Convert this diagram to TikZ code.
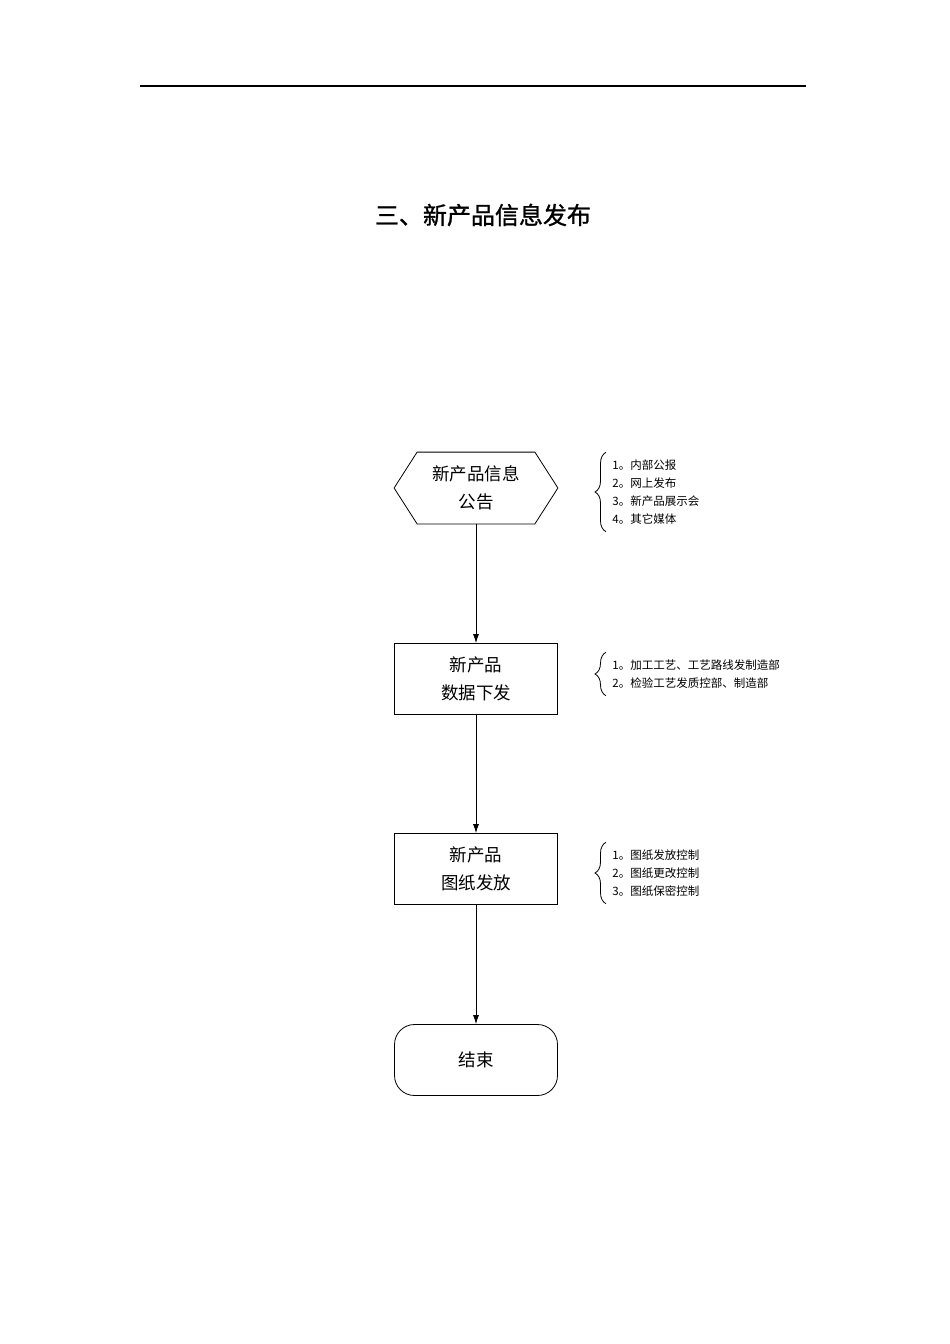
\documentclass[tikz,border=0pt]{standalone}
\usepackage{fontspec}
\setmainfont{Noto Sans CJK SC}
\newfontfamily\titlefont[FakeBold=1.2]{Noto Sans CJK SC}
\usetikzlibrary{positioning,arrows.meta,decorations.pathreplacing}

\begin{document}
\begin{tikzpicture}[x=1pt,y=-1pt,line width=0.8pt,>={Latex[length=9pt,width=6pt]},
  box/.style={draw,minimum width=163pt,minimum height=71pt,align=center,font=\fontsize{17.5}{28}\selectfont},
  note/.style={anchor=west,align=left,inner xsep=0pt,inner ysep=7pt,font=\fontsize{11.5}{18}\selectfont},
  brace/.style={decorate,decoration={brace,amplitude=11pt}}]
  \useasboundingbox (0,0) rectangle (950,1344);
  \draw[line width=1.2pt] (140,86) -- (806,86);
  \node[font=\titlefont\fontsize{24}{28}\selectfont] (title) at (483,215) {三、新产品信息发布};

  \node[box,draw=none] (pub) at (476,488) {新产品信息\\公告};
  \draw ([xshift=23pt]pub.north west) -- ([xshift=-23pt]pub.north east) -- (pub.east)
    -- ([xshift=-23pt]pub.south east) -- ([xshift=23pt]pub.south west) -- (pub.west) -- cycle;
  \node[box] (data) at (476,679) {新产品\\数据下发};
  \node[box] (dwg) at (476,869) {新产品\\图纸发放};
  \node[box,rounded corners=20pt] (fin) at (476,1060) {结束};

  \draw[->] (pub) -- (data);
  \draw[->] (data) -- (dwg);
  \draw[->] (dwg) -- (fin);

  \node[note] (n1) at (612,492) {1。内部公报\\2。网上发布\\3。新产品展示会\\4。其它媒体};
  \node[note] (n2) at (612,674) {1。加工工艺、工艺路线发制造部\\2。检验工艺发质控部、制造部};
  \node[note] (n3) at (612,873) {1。图纸发放控制\\2。图纸更改控制\\3。图纸保密控制};

  \draw[brace] ([xshift=-6pt]n1.south west) -- ([xshift=-6pt]n1.north west);
  \draw[brace] ([xshift=-6pt]n2.south west) -- ([xshift=-6pt]n2.north west);
  \draw[brace] ([xshift=-6pt]n3.south west) -- ([xshift=-6pt]n3.north west);
\end{tikzpicture}
\end{document}
